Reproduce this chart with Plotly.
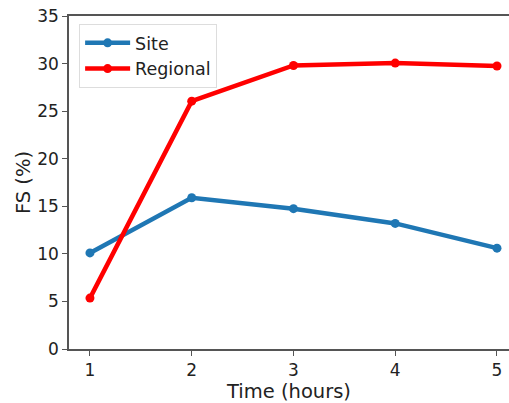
import plotly.graph_objects as go

time_hours = [1, 2, 3, 4, 5]
site_fs = [10.1, 15.9, 14.75, 13.2, 10.6]
regional_fs = [5.35, 26.05, 29.8, 30.05, 29.75]
y_ticks = [0, 5, 10, 15, 20, 25, 30, 35]
x_ticks = [1, 2, 3, 4, 5]

font = "DejaVu Sans, Arial, sans-serif"
fig = go.Figure()
fig.add_trace(go.Scatter(x=time_hours, y=site_fs, mode="lines+markers", name="Site",
                         line=dict(color="#1f77b4", width=4.5), marker=dict(size=9, color="#1f77b4"),
                         cliponaxis=False))
fig.add_trace(go.Scatter(x=time_hours, y=regional_fs, mode="lines+markers", name="Regional",
                         line=dict(color="#ff0000", width=4.5), marker=dict(size=9, color="#ff0000"),
                         cliponaxis=False))

axis_common = dict(showgrid=False, zeroline=False, showline=True, linecolor="#555555", linewidth=1.5,
                   ticks="outside", ticklen=5, tickwidth=1.2, tickcolor="#555555", automargin=False,
                   ticklabeloverflow="allow",
                   tickfont=dict(family=font, size=17, color="#222222"))
fig.update_layout(
    width=509, height=403,
    margin=dict(l=69, r=0, t=16, b=54),
    plot_bgcolor="white", paper_bgcolor="white",
    font=dict(family=font, size=17, color="#222222"),
    xaxis=dict(range=[0.794, 5.118], tickvals=x_ticks, mirror=True,
               title=dict(text="Time (hours)", font=dict(size=19.5), standoff=0), **axis_common),
    yaxis=dict(range=[0, 35], tickvals=y_ticks,
               title=dict(text="FS (%)", font=dict(size=19.5), standoff=1), **axis_common),
    legend=dict(x=0.023, y=0.976, xanchor="left", yanchor="top", bgcolor="white",
                bordercolor="#dddddd", borderwidth=1, font=dict(size=17.5), itemwidth=45,
                tracegroupgap=2),
    showlegend=True,
)
fig.write_html("out.html", config={"displayModeBar": False},
               post_script="document.body.style.margin='0';document.body.style.overflow='hidden';")
